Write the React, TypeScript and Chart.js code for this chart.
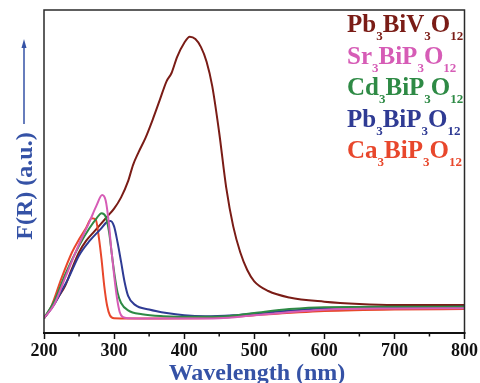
import React, { useEffect, useRef } from "react";
import { Chart, registerables } from "chart.js";

Chart.register(...registerables);

const xTicks = [200, 300, 400, 500, 600, 700, 800];

const pbvWl = [200, 210, 220, 230, 240, 250, 260, 270, 280, 290, 300, 310, 320, 327, 335, 345, 355, 365, 375, 382, 390, 400, 408, 416, 424, 432, 440, 450, 460, 470, 480, 490, 500, 520, 550, 600, 650, 700, 800];
const pbvVal = [4.6, 7.5, 11, 14.5, 20, 25, 28.5, 31, 33.5, 36, 38.5, 42, 47, 52, 56, 60.5, 66, 72, 78, 80.5, 85.5, 89.8, 91.7, 91, 88.5, 84, 76.5, 62, 45, 33, 25, 19.5, 16, 13, 11, 9.7, 9, 8.7, 8.7];

const srWl = [200, 215, 230, 250, 265, 275, 283, 288, 292, 296, 300, 304, 308, 312, 320, 400, 450, 500, 600, 700, 800];
const srVal = [4.6, 9, 17, 27.5, 34.5, 39.5, 42.7, 41, 35, 26, 18, 11, 6.5, 5, 4.6, 4.5, 4.6, 5.5, 7.2, 7.6, 7.7];

const cdWl = [200, 215, 230, 250, 265, 275, 282, 288, 293, 297, 301, 305, 310, 320, 340, 370, 420, 460, 500, 550, 600, 700, 800];
const cdVal = [4.6, 10, 18, 27, 32.5, 35.5, 37.1, 36, 31, 24, 17.5, 12.5, 9.3, 7, 5.8, 5.2, 5, 5.2, 6.2, 7.4, 8, 8.1, 8.1];

const pbpWl = [200, 215, 225, 235, 250, 265, 280, 290, 295, 300, 305, 310, 315, 320, 330, 350, 375, 400, 430, 470, 500, 600, 700, 800];
const pbpVal = [4.6, 9, 13, 17, 24, 28.5, 32, 34.4, 34.7, 33, 28, 22, 15.8, 11.5, 8.7, 7.3, 6.2, 5.5, 5.2, 5.5, 6, 7.7, 8, 8.1];

const caWl = [200, 210, 225, 240, 250, 260, 268, 274, 278, 282, 286, 290, 294, 300, 350, 450, 500, 600, 700, 800];
const caVal = [4.6, 8, 17, 25, 29, 32.5, 35.5, 35, 30, 23, 14.5, 8.5, 5.5, 4.6, 4.5, 4.7, 5.5, 6.8, 7.3, 7.4];

// legend entries: [text, isSubscript] parts
const legendLabels: [string, boolean][][] = [
  [["Pb", false], ["3", true], ["BiV", false], ["3", true], ["O", false], ["12", true]],
  [["Sr", false], ["3", true], ["BiP", false], ["3", true], ["O", false], ["12", true]],
  [["Cd", false], ["3", true], ["BiP", false], ["3", true], ["O", false], ["12", true]],
  [["Pb", false], ["3", true], ["BiP", false], ["3", true], ["O", false], ["12", true]],
  [["Ca", false], ["3", true], ["BiP", false], ["3", true], ["O", false], ["12", true]],
];

const COLORS = {
  pbv: "#7a1c16",
  sr: "#d65cb6",
  cd: "#2e8a45",
  pbp: "#2f3b94",
  ca: "#e8472c",
};
const legendColors = [COLORS.pbv, COLORS.sr, COLORS.cd, COLORS.pbp, COLORS.ca];
const BLUE_TXT = "#3552a6";
const SERIF = '"Liberation Serif", "Times New Roman", serif';

function pts(xs: number[], ys: number[]) {
  return xs.map((x, i) => ({ x, y: ys[i] }));
}

const decorPlugin = {
  id: "decor",
  afterDraw(chart: any) {
    const ctx = chart.ctx as CanvasRenderingContext2D;
    const { left, right, top, bottom } = chart.chartArea;
    const xs = chart.scales.x;
    ctx.save();
    // frame
    ctx.strokeStyle = "#2a2a2a";
    ctx.lineWidth = 1.5;
    ctx.beginPath();
    ctx.moveTo(left, bottom);
    ctx.lineTo(left, top);
    ctx.lineTo(right, top);
    ctx.lineTo(right, bottom);
    ctx.stroke();
    ctx.lineWidth = 2;
    ctx.strokeStyle = "#111";
    ctx.beginPath();
    ctx.moveTo(left - 1, bottom);
    ctx.lineTo(right + 1, bottom);
    ctx.stroke();
    // minor ticks
    ctx.lineWidth = 1.5;
    for (let v = 250; v < 800; v += 100) {
      const px = xs.getPixelForValue(v);
      ctx.beginPath();
      ctx.moveTo(px, bottom);
      ctx.lineTo(px, bottom + 3.5);
      ctx.stroke();
    }
    // legend
    let y = 32;
    legendLabels.forEach((parts, i) => {
      let x = 347;
      ctx.fillStyle = legendColors[i];
      ctx.textBaseline = "alphabetic";
      ctx.textAlign = "left";
      parts.forEach(([t, sub]) => {
        ctx.font = sub ? `bold 13px ${SERIF}` : `bold 25px ${SERIF}`;
        ctx.fillText(t, x, sub ? y + 8 : y);
        x += ctx.measureText(t).width;
      });
      y += 31.5;
    });
    // y title + arrow
    ctx.fillStyle = BLUE_TXT;
    ctx.strokeStyle = BLUE_TXT;
    ctx.save();
    ctx.translate(26, 186);
    ctx.rotate(-Math.PI / 2);
    ctx.font = `bold 24px ${SERIF}`;
    ctx.textAlign = "center";
    ctx.textBaseline = "middle";
    ctx.fillText("F(R) (a.u.)", 0, 0);
    ctx.restore();
    ctx.lineWidth = 1.5;
    ctx.beginPath();
    ctx.moveTo(24, 124);
    ctx.lineTo(24, 46);
    ctx.stroke();
    ctx.beginPath();
    ctx.moveTo(24, 39);
    ctx.lineTo(21.5, 48);
    ctx.lineTo(26.5, 48);
    ctx.closePath();
    ctx.fill();
    // x title
    ctx.font = `bold 24px ${SERIF}`;
    ctx.textAlign = "center";
    ctx.textBaseline = "top";
    ctx.fillText("Wavelength (nm)", 257, 362);
    ctx.restore();
  },
};

export default function App() {
  const ref = useRef<HTMLCanvasElement | null>(null);
  useEffect(() => {
    if (!ref.current) return;
    const mk = (label: string, xs: number[], ys: number[], color: string) => ({
      label,
      data: pts(xs, ys),
      borderColor: color,
      backgroundColor: color,
      borderWidth: 2,
      pointRadius: 0,
      cubicInterpolationMode: "monotone" as const,
      fill: false,
    });
    const chart = new Chart(ref.current, {
      type: "line",
      data: {
        datasets: [
          mk("Sr3BiP3O12", srWl, srVal, COLORS.sr),
          mk("Cd3BiP3O12", cdWl, cdVal, COLORS.cd),
          mk("Pb3BiP3O12", pbpWl, pbpVal, COLORS.pbp),
          mk("Ca3BiP3O12", caWl, caVal, COLORS.ca),
          mk("Pb3BiV3O12", pbvWl, pbvVal, COLORS.pbv),
        ],
      },
      options: {
        animation: false,
        responsive: false,
        maintainAspectRatio: false,
        layout: { padding: { top: 10, right: 14, left: 0, bottom: 0 } },
        plugins: { legend: { display: false }, tooltip: { enabled: false } },
        scales: {
          x: {
            type: "linear",
            min: 200,
            max: 800,
            afterBuildTicks: (s: any) => {
              s.ticks = xTicks.map((v) => ({ value: v }));
            },
            afterFit: (s: any) => {
              s.height = 50;
            },
            ticks: {
              color: "#111",
              font: { family: SERIF, size: 18, weight: "bold" },
              padding: 2,
              maxRotation: 0,
              autoSkip: false,
            },
            grid: {
              display: true,
              drawOnChartArea: false,
              drawTicks: true,
              tickLength: 6,
              tickWidth: 1.5,
              tickColor: "#111",
            },
            border: { display: false },
          },
          y: {
            min: 0,
            max: 100,
            afterFit: (s: any) => {
              s.width = 44;
            },
            ticks: { display: false },
            grid: { display: false, drawTicks: false },
            border: { display: false },
          },
        },
      },
      plugins: [decorPlugin],
    });
    return () => chart.destroy();
  }, []);
  return (
    <div style={{ position: "fixed", left: 0, top: 0, width: 480, height: 383, background: "#fff" }}>
      <canvas ref={ref} width={480} height={383} style={{ width: 480, height: 383 }} />
    </div>
  );
}
